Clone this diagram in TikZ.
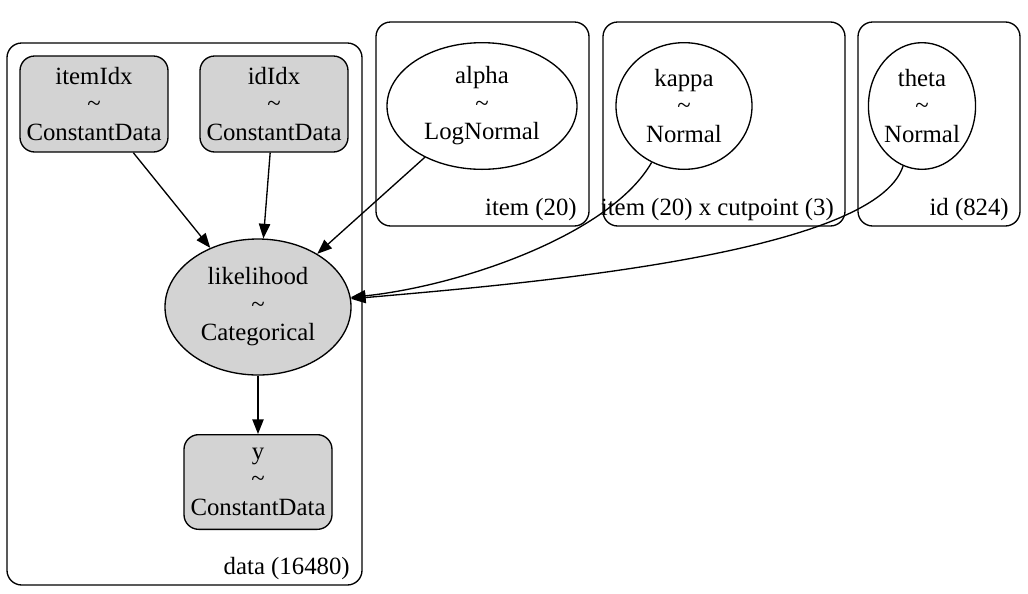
\documentclass[tikz,border=0pt]{standalone}
\usepackage{fontspec}
\setmainfont{Liberation Serif}
\usetikzlibrary{arrows.meta,positioning,shapes.geometric}
\definecolor{NodeGray}{HTML}{D3D3D3}
\tikzset{
  every node/.style={font=\fontsize{18.6}{21.5}\selectfont, align=center, inner sep=0pt},
  datanode/.style={rectangle, rounded corners=11pt, draw=black, fill=NodeGray, line width=1pt, minimum width=111pt, minimum height=72pt},
  rvnode/.style={ellipse, draw=black, line width=1pt},
  obsnode/.style={ellipse, draw=black, fill=NodeGray, line width=1pt},
  plate/.style={rounded corners=11pt, draw=black, line width=1pt},
  platelabel/.style={anchor=base east},
  arr/.style={-{Triangle[length=11pt,width=8.5pt]}, line width=1pt, draw=black}
}
\newcommand{\dist}[2]{#1\\[-1pt]\textasciitilde\\#2}
\begin{document}
\begin{tikzpicture}[x=0.75pt,y=-0.75pt]
\useasboundingbox (0,0) rectangle (1028,593);
% plates
\draw[plate] (7,43) rectangle (362,585);
\node[platelabel] (datalbl) at (350,574) {data (16480)};
\draw[plate] (376,22) rectangle (589,226);
\node[platelabel] (itemlbl) at (577,215) {item (20)};
\draw[plate] (603,22) rectangle (845,226);
\node[platelabel] (cutlbl) at (834,215) {item (20) x cutpoint (3)};
\draw[plate] (858,22) rectangle (1020,226);
\node[platelabel] (idlbl) at (1009,215) {id (824)};
% nodes
\node[datanode] (itemIdx) at (94,104) {\dist{itemIdx}{ConstantData}};
\node[datanode] (idIdx) at (274,104) {\dist{idIdx}{ConstantData}};
\node[obsnode, minimum width=139.5pt, minimum height=102pt] (lik) at (258,307) {\dist{likelihood}{Categorical}};
\node[datanode, minimum height=71pt] (y) at (258,482) {\dist{y}{ConstantData}};
\node[rvnode, minimum width=142.5pt, minimum height=95pt] (alpha) at (482,106) {\dist{alpha}{LogNormal}};
\node[rvnode, minimum width=102pt, minimum height=95pt] (kappa) at (684,106) {\dist{kappa}{Normal}};
\node[rvnode, minimum width=77pt, minimum height=95pt] (theta) at (922,106) {\dist{theta}{Normal}};
% edges
\draw[arr] (itemIdx) -- (lik);
\draw[arr] (idIdx) -- (lik);
\draw[arr] (alpha) -- (lik);
\draw[arr] (kappa) .. controls (610,235) and (460,286) .. (lik);
\draw[arr] (theta) .. controls (875,255) and (520,284) .. (lik);
\draw[arr] (lik) -- (y);
\end{tikzpicture}
\end{document}
